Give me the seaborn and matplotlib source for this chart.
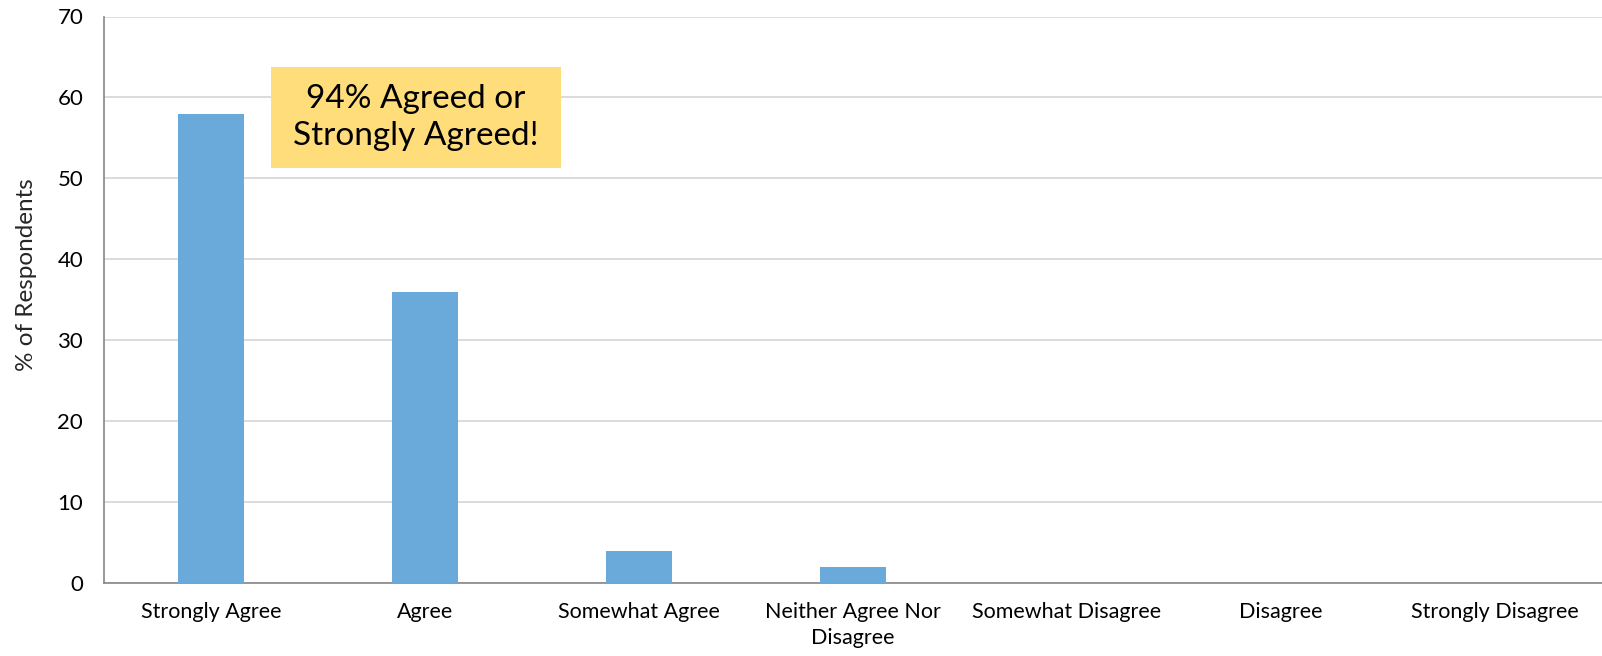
import matplotlib
matplotlib.use("Agg")
import matplotlib.pyplot as plt
import seaborn as sns
import pandas as pd
from matplotlib.patches import Rectangle

categories = ["Strongly Agree", "Agree", "Somewhat Agree", "Neither Agree Nor\nDisagree",
              "Somewhat Disagree", "Disagree", "Strongly Disagree"]
percent = [58, 36, 4, 2, 0, 0, 0]

df = pd.DataFrame({"response": categories, "pct": percent})

sns.set_style("white")
plt.rcParams['font.family'] = ['Lato', 'DejaVu Sans']

fig = plt.figure(figsize=(16.02, 6.56), dpi=100)
ax = fig.add_axes([104 / 1602, 1 - 583 / 656, 1 - 104 / 1602, (583 - 16.5) / 656])

sns.barplot(data=df, x="response", y="pct", color="#6AAADB", width=0.31,
            saturation=1, linewidth=0, ax=ax, zorder=3)

ax.set_ylim(0, 70)
ax.set_xlim(-0.5, len(categories) - 0.5)
ax.set_yticks(range(0, 71, 10))
ax.grid(axis='y', color='#d9d9d9', linewidth=1.3, zorder=0)
ax.set_axisbelow(True)
for s in ["top", "right"]:
    ax.spines[s].set_visible(False)
ax.spines["left"].set_color("#868686")
ax.spines["bottom"].set_color("#868686")
ax.spines["left"].set_linewidth(1.2)
ax.spines["bottom"].set_linewidth(1.2)
ax.tick_params(axis='both', length=0, colors='black')
ax.tick_params(axis='x', pad=14, labelsize=15.5)
ax.tick_params(axis='y', pad=15, labelsize=16)
for lbl in ax.get_xticklabels():
    lbl.set_linespacing(1.35)
ax.set_xlabel("")
ax.set_ylabel("% of Respondents", fontsize=17.5)
ax.yaxis.set_label_coords(-0.0445, 0.545)

# callout box
ax.add_patch(Rectangle((0.28, 51.3), 1.356, 12.4, facecolor="#FFDD7A",
                       edgecolor="none", zorder=4))
ax.text(0.958, 57.5, "94% Agreed or\nStrongly Agreed!", ha="center", va="center",
        fontsize=24, linespacing=1.3, color="black", zorder=5)

fig.savefig("out.png", dpi=100)
plt.close()
